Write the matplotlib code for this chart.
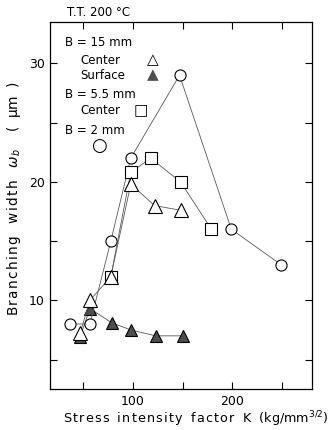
import matplotlib
matplotlib.use("Agg")
from matplotlib import pyplot as plt

# stress intensity factor K vs branching width w_b, T.T. 200 C
# B = 2 mm (circles)
kCircle = [37, 57, 78, 98, 147, 199, 249]
wCircle = [8.0, 8.0, 15.0, 22.0, 29.0, 16.0, 13.0]
# B = 5.5 mm center (squares)
kSquare = [78, 98, 118, 148, 179]
wSquare = [12.0, 20.8, 22.0, 20.0, 16.0]
# B = 15 mm center (open triangles)
kCenter = [47, 57, 78, 98, 122, 148]
wCenter = [7.2, 10.0, 12.0, 19.8, 18.0, 17.6]
# B = 15 mm surface (filled triangles)
kSurface = [47, 57, 79, 98, 123, 150]
wSurface = [6.9, 9.3, 8.1, 7.5, 7.0, 7.0]

xTicks = [50, 100, 150, 200, 250]
xTickLabels = ["", "100", "", "200", ""]
yTicks = [5, 10, 15, 20, 25, 30]
yTickLabels = ["", "10", "", "20", "", "30"]


def spaced(s):
    # letter-space a plain string with hair spaces
    return "\u200a".join(s)


plt.rcParams["font.family"] = ["DejaVu Sans"]
fig = plt.figure(figsize=(3.34, 4.30), dpi=100)
ax = fig.add_axes([0.150, 0.095, 0.784, 0.854])

lineKw = dict(color="0.35", linewidth=0.6)
ax.plot(kSurface, wSurface, marker="^", markersize=9, markerfacecolor="0.3",
        markeredgecolor="k", markeredgewidth=0.8, zorder=2, **lineKw)
ax.plot(kCircle, wCircle, marker="o", markersize=8, markerfacecolor="white",
        markeredgecolor="k", markeredgewidth=0.8, zorder=3, **lineKw)
ax.plot(kSquare, wSquare, marker="s", markersize=8, markerfacecolor="white",
        markeredgecolor="k", markeredgewidth=0.8, zorder=3, **lineKw)
ax.plot(kCenter, wCenter, marker="^", markersize=10, markerfacecolor="white",
        markeredgecolor="k", markeredgewidth=0.8, zorder=4, **lineKw)

ax.set_xlim(17, 280)
ax.set_ylim(2.5, 33.5)
ax.set_xticks(xTicks)
ax.set_xticklabels(xTickLabels, fontsize=9)
ax.set_yticks(yTicks)
ax.set_yticklabels(yTickLabels, fontsize=9)
ax.tick_params(direction="in", top=True, right=True, length=5, width=0.8, pad=4)
for s in ax.spines.values():
    s.set_linewidth(0.9)

# hand-placed legend text, as in the original figure
tx = ax.transAxes
ax.text(0.057, 0.944, "B = 15 mm", transform=tx, fontsize=8.5, va="center")
ax.text(0.115, 0.895, "Center", transform=tx, fontsize=8.5, va="center")
ax.text(0.368, 0.897, "\u25b3", transform=tx, fontsize=11, va="center")
ax.text(0.115, 0.855, "Surface", transform=tx, fontsize=8.5, va="center")
ax.text(0.368, 0.857, "\u25b2", transform=tx, fontsize=11, va="center",
        color="0.3")
ax.text(0.057, 0.803, "B = 5.5 mm", transform=tx, fontsize=8.5, va="center")
ax.text(0.115, 0.758, "Center", transform=tx, fontsize=8.5, va="center")
ax.text(0.320, 0.758, "\u25a1", transform=tx, fontsize=11, va="center")
ax.text(0.057, 0.705, "B = 2 mm", transform=tx, fontsize=8.5, va="center")
ax.text(0.158, 0.662, "\u25cb", transform=tx, fontsize=13, va="center")

fig.text(0.20, 0.972, "T.T. 200 \u00b0C", fontsize=8.5, va="center")
xlab = (spaced("Stress") + "  " + spaced("intensity") + "  " + spaced("factor")
        + "  K  (kg/mm$^{3/2}$)")
ax.set_xlabel(xlab, fontsize=9.2, labelpad=1, x=0.555)
ylab = (spaced("Branching") + "   " + spaced("width") + "   $\\omega_b$"
        + "    (  \u03bcm  )")
ax.set_ylabel(ylab, fontsize=9.8, labelpad=4, y=0.52)

fig.savefig("out.png", dpi=100)
